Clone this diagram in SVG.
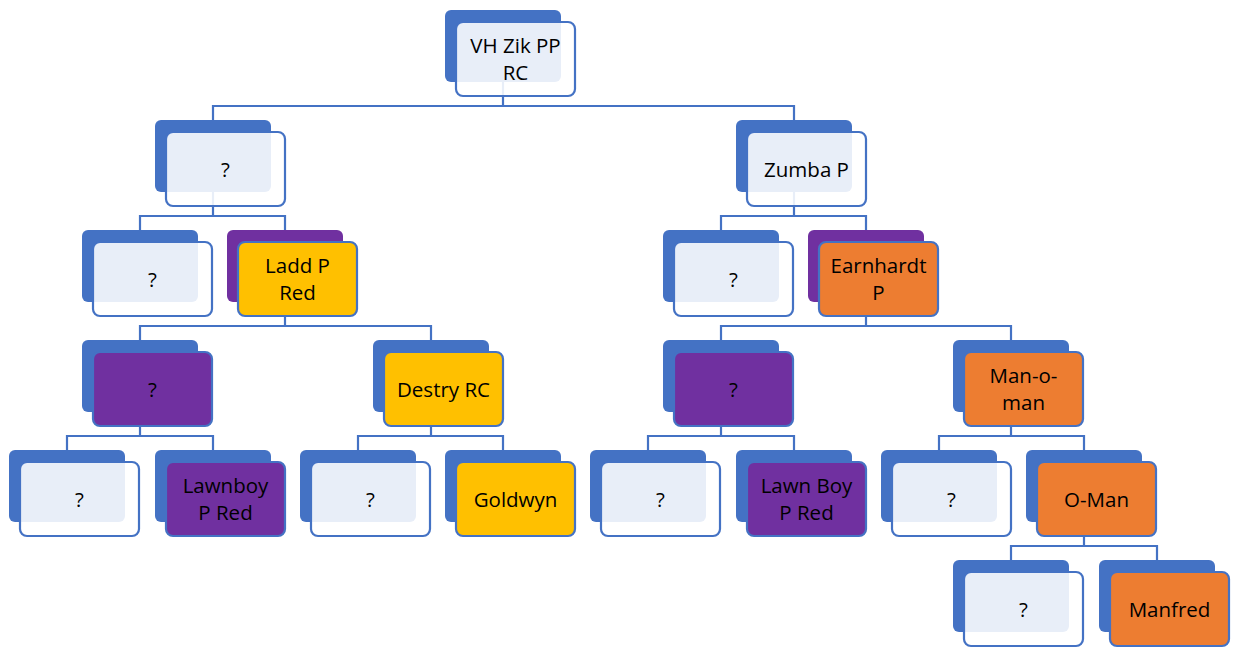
<svg xmlns="http://www.w3.org/2000/svg" width="1233" height="648" viewBox="0 0 1233 648">
  <style>
    .wire { fill: none; stroke: #4472C4; stroke-width: 2.2; stroke-linecap: butt; stroke-linejoin: miter; }
    .back { stroke: none; }
    .b-blue { fill: #4472C4; }
    .b-purple { fill: #7030A0; }
    .front { stroke: #4472C4; stroke-width: 2.2; }
    .f-pale { fill: #FFFFFF; fill-opacity: 0.88; }
    .f-purple { fill: #7030A0; }
    .f-yellow { fill: #FFC000; }
    .f-orange { fill: #ED7D31; }
    text { font-family: "Open Sans", "Liberation Sans", sans-serif; font-size: 20.5px; fill: #000000; text-anchor: middle; }
  </style>

  <!-- connectors: parent drop, sibling bar, child drops -->
  <g id="connectors" class="wire">
    <path d="M503,82 V106 M213,120 V106 H794 V120"/>
    <path d="M213,192 V216 M140,230 V216 H285 V230"/>
    <path d="M794,192 V216 M721,230 V216 H866 V230"/>
    <path d="M285,302 V326 M140,340 V326 H431 V340"/>
    <path d="M866,302 V326 M721,340 V326 H1011 V340"/>
    <path d="M140,412 V436 M67,450 V436 H213 V450"/>
    <path d="M431,412 V436 M358,450 V436 H503 V450"/>
    <path d="M721,412 V436 M648,450 V436 H794 V450"/>
    <path d="M1011,412 V436 M939,450 V436 H1084 V450"/>
    <path d="M1084,522 V546 M1011,560 V546 H1157 V560"/>
  </g>

  <!-- level 0 -->
  <g id="n-vhzik">
    <rect class="back b-blue" x="445" y="10" width="116" height="72" rx="6"/>
    <rect class="front f-pale" x="456" y="22" width="119" height="74" rx="7"/>
    <text x="515.5" y="52.5">VH Zik PP</text>
    <text x="515.5" y="79.5">RC</text>
  </g>

  <!-- level 1 -->
  <g id="n-l1-unknown">
    <rect class="back b-blue" x="155" y="120" width="116" height="72" rx="6"/>
    <rect class="front f-pale" x="166" y="132" width="119" height="74" rx="7"/>
    <text x="225.5" y="176.5">?</text>
  </g>
  <g id="n-zumba">
    <rect class="back b-blue" x="736" y="120" width="116" height="72" rx="6"/>
    <rect class="front f-pale" x="747" y="132" width="119" height="74" rx="7"/>
    <text x="806.5" y="176.5">Zumba P</text>
  </g>

  <!-- level 2 -->
  <g id="n-l2-unknown-a">
    <rect class="back b-blue" x="82" y="230" width="116" height="72" rx="6"/>
    <rect class="front f-pale" x="93" y="242" width="119" height="74" rx="7"/>
    <text x="152.5" y="286.5">?</text>
  </g>
  <g id="n-ladd">
    <rect class="back b-purple" x="227" y="230" width="116" height="72" rx="6"/>
    <rect class="front f-yellow" x="238" y="242" width="119" height="74" rx="7"/>
    <text x="297.5" y="272.5">Ladd P</text>
    <text x="297.5" y="299.5">Red</text>
  </g>
  <g id="n-l2-unknown-b">
    <rect class="back b-blue" x="663" y="230" width="116" height="72" rx="6"/>
    <rect class="front f-pale" x="674" y="242" width="119" height="74" rx="7"/>
    <text x="733.5" y="286.5">?</text>
  </g>
  <g id="n-earnhardt">
    <rect class="back b-purple" x="808" y="230" width="116" height="72" rx="6"/>
    <rect class="front f-orange" x="819" y="242" width="119" height="74" rx="7"/>
    <text x="878.5" y="272.5">Earnhardt</text>
    <text x="878.5" y="299.5">P</text>
  </g>

  <!-- level 3 -->
  <g id="n-l3-unknown-a">
    <rect class="back b-blue" x="82" y="340" width="116" height="72" rx="6"/>
    <rect class="front f-purple" x="93" y="352" width="119" height="74" rx="7"/>
    <text x="152.5" y="396.5">?</text>
  </g>
  <g id="n-destry">
    <rect class="back b-blue" x="373" y="340" width="116" height="72" rx="6"/>
    <rect class="front f-yellow" x="384" y="352" width="119" height="74" rx="7"/>
    <text x="443.5" y="396.5">Destry RC</text>
  </g>
  <g id="n-l3-unknown-b">
    <rect class="back b-blue" x="663" y="340" width="116" height="72" rx="6"/>
    <rect class="front f-purple" x="674" y="352" width="119" height="74" rx="7"/>
    <text x="733.5" y="396.5">?</text>
  </g>
  <g id="n-man-o-man">
    <rect class="back b-blue" x="953" y="340" width="116" height="72" rx="6"/>
    <rect class="front f-orange" x="964" y="352" width="119" height="74" rx="7"/>
    <text x="1023.5" y="382.5">Man-o-</text>
    <text x="1023.5" y="409.5">man</text>
  </g>

  <!-- level 4 -->
  <g id="n-l4-unknown-a">
    <rect class="back b-blue" x="9" y="450" width="116" height="72" rx="6"/>
    <rect class="front f-pale" x="20" y="462" width="119" height="74" rx="7"/>
    <text x="79.5" y="506.5">?</text>
  </g>
  <g id="n-lawnboy">
    <rect class="back b-blue" x="155" y="450" width="116" height="72" rx="6"/>
    <rect class="front f-purple" x="166" y="462" width="119" height="74" rx="7"/>
    <text x="225.5" y="492.5">Lawnboy</text>
    <text x="225.5" y="519.5">P Red</text>
  </g>
  <g id="n-l4-unknown-b">
    <rect class="back b-blue" x="300" y="450" width="116" height="72" rx="6"/>
    <rect class="front f-pale" x="311" y="462" width="119" height="74" rx="7"/>
    <text x="370.5" y="506.5">?</text>
  </g>
  <g id="n-goldwyn">
    <rect class="back b-blue" x="445" y="450" width="116" height="72" rx="6"/>
    <rect class="front f-yellow" x="456" y="462" width="119" height="74" rx="7"/>
    <text x="515.5" y="506.5">Goldwyn</text>
  </g>
  <g id="n-l4-unknown-c">
    <rect class="back b-blue" x="590" y="450" width="116" height="72" rx="6"/>
    <rect class="front f-pale" x="601" y="462" width="119" height="74" rx="7"/>
    <text x="660.5" y="506.5">?</text>
  </g>
  <g id="n-lawn-boy">
    <rect class="back b-blue" x="736" y="450" width="116" height="72" rx="6"/>
    <rect class="front f-purple" x="747" y="462" width="119" height="74" rx="7"/>
    <text x="806.5" y="492.5">Lawn Boy</text>
    <text x="806.5" y="519.5">P Red</text>
  </g>
  <g id="n-l4-unknown-d">
    <rect class="back b-blue" x="881" y="450" width="116" height="72" rx="6"/>
    <rect class="front f-pale" x="892" y="462" width="119" height="74" rx="7"/>
    <text x="951.5" y="506.5">?</text>
  </g>
  <g id="n-o-man">
    <rect class="back b-blue" x="1026" y="450" width="116" height="72" rx="6"/>
    <rect class="front f-orange" x="1037" y="462" width="119" height="74" rx="7"/>
    <text x="1096.5" y="506.5">O-Man</text>
  </g>

  <!-- level 5 -->
  <g id="n-l5-unknown">
    <rect class="back b-blue" x="953" y="560" width="116" height="72" rx="6"/>
    <rect class="front f-pale" x="964" y="572" width="119" height="74" rx="7"/>
    <text x="1023.5" y="616.5">?</text>
  </g>
  <g id="n-manfred">
    <rect class="back b-blue" x="1099" y="560" width="116" height="72" rx="6"/>
    <rect class="front f-orange" x="1110" y="572" width="119" height="74" rx="7"/>
    <text x="1169.5" y="616.5">Manfred</text>
  </g>
</svg>
